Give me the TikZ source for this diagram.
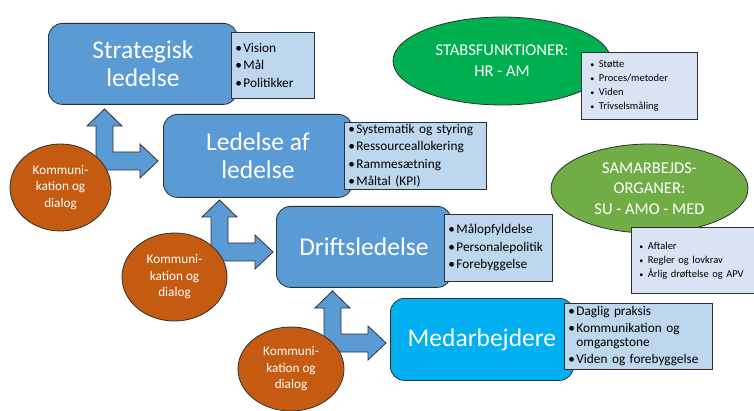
\documentclass[tikz,border=0pt]{standalone}
\usepackage{fontspec}
\setmainfont{Carlito}
\usetikzlibrary{shapes.geometric}

\definecolor{edge}{HTML}{303030}
\definecolor{boxblue}{HTML}{5B9BD5}
\definecolor{staffcyan}{HTML}{00B0F0}
\definecolor{listblue}{HTML}{BDD7EE}
\definecolor{listpale}{HTML}{DAE3F3}
\definecolor{talkorange}{HTML}{C55A11}
\definecolor{stabgreen}{HTML}{00B050}
\definecolor{orggreen}{HTML}{70AD47}

\newcommand\bu{\makebox[8pt][l]{•}}
\newcommand\sbu{\makebox[8.5pt][l]{\fontsize{8}{8}\selectfont•}}

\tikzset{
  outline/.style={draw=edge, line width=0.8pt},
  levelbox/.style={outline, rounded corners=14pt, fill=boxblue, text=white,
    align=center, anchor=north west, inner sep=0pt,
    font=\fontsize{25.5}{28}\selectfont},
  listbox/.style={outline, fill=listblue, align=left, anchor=north west,
    inner xsep=4pt, inner ysep=0pt, font=\fontsize{13.3}{17.5}\selectfont},
  palebox/.style={outline, fill=listpale, align=left, anchor=north west,
    inner ysep=0pt, font=\fontsize{10.5}{14}\selectfont},
  talk/.style={ellipse, outline, fill=talkorange, text=white, align=center,
    inner sep=0pt, font=\fontsize{13.2}{16.5}\selectfont},
  bigoval/.style={ellipse, outline, text=white, align=center, inner sep=0pt,
    font=\fontsize{16.5}{21}\selectfont},
  bentarrow/.style={outline, fill=boxblue, line join=miter}
}

% L-shaped block arrow pointing up and right, corner at the given coordinate
\newcommand\upright[1]{%
  \draw[bentarrow, shift={(#1)}] (0,0) -- (0,-44) -- (-9,-44) -- (8.5,-61)
    -- (26,-44) -- (17,-44) -- (17,-18) -- (44,-18) -- (44,-26) -- (62,-9)
    -- (44,8) -- (44,0) -- cycle;}

\begin{document}
\begin{tikzpicture}[x=1pt, y=-1pt]
\useasboundingbox (0,0) rectangle (754,411);
\clip (0,0) rectangle (754,411);

% corners of the three block arrows
\coordinate (a1) at (96,170);
\coordinate (a2) at (211,261);
\coordinate (a3) at (324,352);
\upright{a1}
\upright{a2}
\upright{a3}

% management levels
\node[levelbox, minimum width=189pt, minimum height=81pt] (strat) at (48,23)
  {Strategisk\\ledelse};
\node[levelbox, minimum width=189pt, minimum height=83pt] (lal) at (163,114)
  {Ledelse af\\ledelse};
\node[levelbox, minimum width=175pt, minimum height=81pt] (drift) at (276,206)
  {Driftsledelse};
\node[levelbox, fill=staffcyan, minimum width=183pt, minimum height=82pt] (medarb) at (390,298)
  {Medarbejdere};

% bullet lists next to each level
\node[listbox, text width=75pt, minimum height=66pt] (l1) at (231,32)
  {\bu Vision\\ \bu Mål\\ \bu Politikker};
\node[listbox, text width=134pt, minimum height=67pt] (l2) at (344,122)
  {\bu Systematik og styring\\ \bu Ressourceallokering\\ \bu Rammesætning\\ \bu Måltal (KPI)};
\node[listbox, text width=100pt, minimum height=67pt] (l3) at (444,214)
  {\bu Målopfyldelse\\ \bu Personalepolitik\\ \bu Forebyggelse};
\node[listbox, text width=140pt, minimum height=66pt, font=\fontsize{13.3}{14}\selectfont] (l4) at (564,303)
  {\bu Daglig praksis\\[3pt] \bu Kommunikation og\\ \hspace*{8pt}omgangstone\\[3pt] \bu Viden og forebyggelse};

% communication between the levels
\node[talk, minimum width=101pt, minimum height=87pt] (k1) at (60.5,187.5)
  {Kommuni-\\kation og\\dialog};
\node[talk, minimum width=105pt, minimum height=88pt] (k2) at (174.5,277)
  {Kommuni-\\kation og\\dialog};
\node[talk, minimum width=106pt, minimum height=84pt] (k3) at (291,369)
  {Kommuni-\\kation og\\dialog};

% staff functions and cooperation bodies
\node[bigoval, fill=stabgreen, minimum width=218pt, minimum height=88pt] (stab) at (502,61)
  {STABSFUNKTIONER:\\HR - AM};
\node[palebox, inner xsep=9pt, text width=98pt, minimum height=67pt] (l5) at (581,52)
  {\sbu Støtte\\ \sbu Proces/metoder\\ \sbu Viden\\ \sbu Trivselsmåling};

\node[bigoval, fill=orggreen, minimum width=197pt, minimum height=89pt,
  font=\fontsize{16.5}{20.5}\selectfont] (org) at (649.5,188.5)
  {SAMARBEJDS-\\ORGANER:\\SU - AMO - MED};
\node[palebox, inner xsep=8pt, text width=114pt, minimum height=66pt] (l6) at (631,227)
  {\sbu Aftaler\\ \sbu Regler og lovkrav\\ \sbu Årlig drøftelse og APV};
\end{tikzpicture}
\end{document}
